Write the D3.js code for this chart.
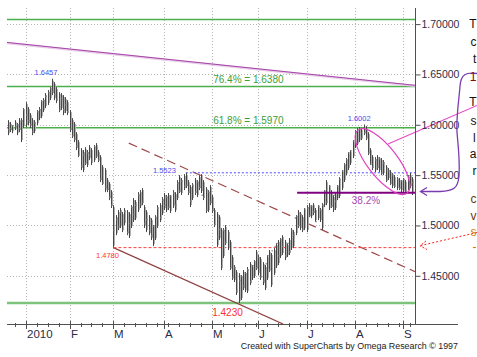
<!DOCTYPE html>
<html><head><meta charset="utf-8">
<script src="https://cdn.jsdelivr.net/npm/d3@7"></script>
<style>html,body{margin:0;padding:0;background:#fff;overflow:hidden}svg{display:block;font-family:Arial,"Liberation Sans",sans-serif}</style>
</head><body><svg id="c" width="477" height="357"></svg>
<script>
// GBP/USD daily bars, 23 Dec 2009 .. 7 Sep 2010 (weekdays)
const startDate = "2009-12-23";
const highs = [1.6046,1.6027,1.5997,1.6046,1.6017,1.6066,1.6066,1.6166,1.6225,1.6176,1.6116,1.6066,1.6046,1.6146,1.6176,1.6245,1.6265,1.6315,1.6345,1.6374,1.6457,1.6424,1.6374,1.6324,1.6315,1.6295,1.6275,1.6245,1.6146,1.6066,1.6027,1.5927,1.5848,1.5768,1.5749,1.5778,1.5749,1.5798,1.5768,1.5798,1.5818,1.5749,1.5699,1.5600,1.5570,1.5471,1.5431,1.5351,1.5202,1.5103,1.5153,1.5173,1.5133,1.5173,1.5153,1.5133,1.5202,1.5272,1.5252,1.5331,1.5351,1.5371,1.5202,1.5153,1.5103,1.5073,1.5004,1.5103,1.5202,1.5222,1.5282,1.5322,1.5302,1.5322,1.5302,1.5351,1.5331,1.5451,1.5500,1.5471,1.5510,1.5523,1.5451,1.5401,1.5421,1.5471,1.5451,1.5500,1.5510,1.5451,1.5381,1.5351,1.5401,1.5302,1.5173,1.5133,1.5103,1.4974,1.4974,1.5004,1.4954,1.4855,1.4706,1.4607,1.4557,1.4527,1.4507,1.4557,1.4537,1.4587,1.4636,1.4607,1.4656,1.4756,1.4706,1.4686,1.4636,1.4607,1.4706,1.4756,1.4726,1.4775,1.4825,1.4855,1.4875,1.4904,1.4855,1.4825,1.4875,1.4974,1.4954,1.5103,1.5153,1.5133,1.5103,1.5173,1.5202,1.5222,1.5202,1.5222,1.5173,1.5202,1.5173,1.5222,1.5351,1.5451,1.5401,1.5351,1.5302,1.5331,1.5401,1.5480,1.5550,1.5619,1.5669,1.5729,1.5749,1.5848,1.5947,1.5967,1.5977,1.5967,1.6002,1.5987,1.5927,1.5768,1.5699,1.5679,1.5699,1.5679,1.5669,1.5649,1.5600,1.5570,1.5550,1.5520,1.5500,1.5480,1.5471,1.5451,1.5471,1.5451,1.5500,1.5520,1.5480];
const lows = [1.5897,1.5927,1.5917,1.5947,1.5897,1.5927,1.5828,1.5967,1.5977,1.5997,1.5967,1.5897,1.5917,1.5997,1.6046,1.6066,1.6126,1.6166,1.6196,1.6245,1.6295,1.6245,1.6215,1.6126,1.6146,1.6096,1.6116,1.6096,1.5927,1.5868,1.5828,1.5749,1.5679,1.5550,1.5530,1.5600,1.5580,1.5649,1.5600,1.5629,1.5669,1.5629,1.5431,1.5401,1.5331,1.5331,1.5252,1.5173,1.4780,1.4904,1.4954,1.4974,1.4934,1.5004,1.4904,1.4875,1.4974,1.5034,1.5053,1.5133,1.5173,1.5202,1.4974,1.4934,1.4904,1.4855,1.4795,1.4855,1.4974,1.5034,1.5103,1.5153,1.5133,1.5153,1.5123,1.5173,1.5133,1.5252,1.5322,1.5302,1.5351,1.5371,1.5302,1.5183,1.5252,1.5302,1.5282,1.5351,1.5322,1.5252,1.5123,1.5133,1.5202,1.5123,1.4984,1.4785,1.4855,1.4557,1.4676,1.4805,1.4756,1.4557,1.4458,1.4438,1.4309,1.4230,1.4259,1.4358,1.4338,1.4329,1.4408,1.4458,1.4478,1.4557,1.4507,1.4458,1.4408,1.4358,1.4458,1.4537,1.4388,1.4507,1.4577,1.4607,1.4676,1.4706,1.4656,1.4686,1.4706,1.4756,1.4775,1.4904,1.4974,1.4954,1.4934,1.4954,1.4934,1.5083,1.5073,1.5103,1.5034,1.5053,1.5034,1.4954,1.5183,1.5202,1.5153,1.5173,1.5133,1.5153,1.5252,1.5272,1.5351,1.5431,1.5500,1.5550,1.5600,1.5669,1.5768,1.5798,1.5828,1.5848,1.5897,1.5848,1.5699,1.5600,1.5550,1.5530,1.5550,1.5530,1.5500,1.5500,1.5431,1.5451,1.5401,1.5371,1.5371,1.5351,1.5351,1.5331,1.5322,1.5322,1.5351,1.5371,1.5302];
const closes = [1.5950,1.5960,1.5990,1.5980,1.6000,1.5960,1.6040,1.6150,1.6100,1.6040,1.6000,1.5930,1.6020,1.6130,1.6150,1.6230,1.6240,1.6280,1.6320,1.6360,1.6330,1.6300,1.6250,1.6150,1.6260,1.6150,1.6200,1.6130,1.5960,1.5890,1.5860,1.5790,1.5700,1.5590,1.5700,1.5620,1.5720,1.5700,1.5650,1.5780,1.5690,1.5650,1.5460,1.5420,1.5380,1.5360,1.5280,1.5200,1.4950,1.5060,1.4990,1.5130,1.4960,1.5140,1.4930,1.5020,1.5180,1.5110,1.5200,1.5300,1.5210,1.5230,1.5020,1.5060,1.4950,1.4900,1.4990,1.5080,1.5170,1.5080,1.5250,1.5200,1.5280,1.5180,1.5290,1.5320,1.5200,1.5420,1.5340,1.5440,1.5390,1.5400,1.5330,1.5240,1.5400,1.5330,1.5430,1.5380,1.5300,1.5280,1.5150,1.5330,1.5230,1.5150,1.5010,1.4890,1.4960,1.4600,1.4950,1.4830,1.4920,1.4580,1.4480,1.4580,1.4350,1.4450,1.4490,1.4400,1.4520,1.4560,1.4440,1.4600,1.4640,1.4580,1.4680,1.4490,1.4450,1.4620,1.4700,1.4560,1.4750,1.4790,1.4820,1.4700,1.4860,1.4790,1.4700,1.4820,1.4740,1.4950,1.4900,1.5090,1.5000,1.5110,1.4960,1.5160,1.5170,1.5100,1.5190,1.5130,1.5040,1.5190,1.5150,1.5200,1.5340,1.5230,1.5390,1.5190,1.5300,1.5240,1.5390,1.5460,1.5540,1.5600,1.5650,1.5720,1.5740,1.5840,1.5930,1.5820,1.5950,1.5870,1.5920,1.5870,1.5720,1.5610,1.5580,1.5650,1.5580,1.5660,1.5520,1.5620,1.5450,1.5540,1.5420,1.5500,1.5390,1.5460,1.5370,1.5440,1.5460,1.5340,1.5480,1.5400,1.5430];

const priceTicks = [1.45, 1.50, 1.55, 1.60, 1.65, 1.70];
const priceTickLabels = ["1.45000", "1.50000", "1.55000", "1.60000", "1.65000", "1.70000"];
const monthStarts = ["2010-01-04","2010-02-01","2010-03-01","2010-04-01","2010-05-03","2010-06-01","2010-07-01","2010-08-02","2010-09-01"];
const monthLabels = ["2010","F","M","A","M","J","J","A","S"];

// Fibonacci / level lines
const fibLevels = [1.7046, 1.6380, 1.5970, 1.4230];
const fibLabels = [null, "76.4% = 1.6380", "61.8% = 1.5970", null];
const level382 = 1.5325;
const pointLabels = [
  {text: "1.6457", idx: 20, price: 1.6457},
  {text: "1.6002", idx: 162, price: 1.6002},
  {text: "1.5523", idx: 81, price: 1.5523},
  {text: "1.4780", idx: 48, price: 1.4780},
  {text: "1.4230", idx: 105, price: 1.4230}
];
// trend lines [index, price]
const purpleTrend = [[-0.5, 1.6818], [185.4, 1.6392]];
const upperChannel = [[55, 1.5818], [185.4, 1.4541]];
const lowerChannel = [[48, 1.4780], [125.3, 1.4021]];
// visible (cut-off) characters of the side note
const noteChars = ["T","c","t","1","T","s","l","a","r","c","v","s","-"];
const noteColors = ["#111","#111","#111","#701010","#111","#111","#111","#111","#111","#6a3a10","#6a3a10","#d08000","#e07000"];

// ---------- build ----------
const parse = d3.timeParse("%Y-%m-%d"), fmt = d3.timeFormat("%Y-%m-%d");
const dates = [];
{ let d = parse(startDate);
  while (dates.length < highs.length) { const w = d.getDay(); if (w !== 0 && w !== 6) dates.push(fmt(d)); d = d3.timeDay.offset(d, 1); } }

const svg = d3.select("#c");
const L = 7, R = 415, T = 8, B = 324;
const x = d3.scaleBand().domain(dates).range([L, 413]).padding(0);
const cx = d => x(d) + x.bandwidth() / 2;
const xi = d3.scaleLinear().domain([0, dates.length - 1]).range([cx(dates[0]), cx(dates[dates.length - 1])]);
const y = d3.scaleLinear().domain([1.45, 1.70]).range([275.8, 24.1]);

const defs = svg.append("defs");
defs.append("clipPath").attr("id", "plot").append("rect").attr("x", L).attr("y", T).attr("width", R - L).attr("height", B - T);

// grid
const grid = svg.append("g");
priceTicks.forEach(p => grid.append("line").attr("x1", L).attr("x2", R).attr("y1", Math.round(y(p)) + 0.5).attr("y2", Math.round(y(p)) + 0.5)
  .attr("stroke", "#b4b4b4").attr("stroke-dasharray", "1,2"));
monthStarts.forEach(m => grid.append("line").attr("x1", Math.round(cx(m)) + 0.5).attr("x2", Math.round(cx(m)) + 0.5).attr("y1", T).attr("y2", B)
  .attr("stroke", "#b4b4b4").attr("stroke-dasharray", "1,2"));

const plot = svg.append("g").attr("clip-path", "url(#plot)");

// fib lines
fibLevels.forEach((p, k) => plot.append("line").attr("x1", L).attr("x2", R).attr("y1", y(p)).attr("y2", y(p))
  .attr("stroke", k === 3 ? "#7cc47c" : "#4caf4c").attr("stroke-width", k === 3 ? 2.5 : 1.5));
fibLevels.forEach((p, k) => { if (fibLabels[k]) svg.append("text").attr("x", cx(monthStarts[4]) + 1).attr("y", y(p) - 3.5)
  .attr("font-size", 10).attr("fill", "#3aa03a").text(fibLabels[k]); });

// purple long trend
const ln = d3.line().x(d => xi(d[0])).y(d => y(d[1]));
plot.append("path").attr("d", ln(purpleTrend)).attr("stroke", "#e8cce8").attr("stroke-width", 2.4).attr("fill", "none").attr("transform", "translate(0,0.6)");
plot.append("path").attr("d", ln(purpleTrend)).attr("stroke", "#a444a8").attr("stroke-width", 1).attr("fill", "none");

// channel
plot.append("path").attr("d", ln(upperChannel)).attr("stroke", "#a04848").attr("stroke-width", 1.2).attr("stroke-dasharray", "9,5").attr("fill", "none");
plot.append("path").attr("d", ln(lowerChannel)).attr("stroke", "#904040").attr("stroke-width", 1.2).attr("fill", "none");

// red dashed 1.4780 level
plot.append("line").attr("x1", xi(48)).attr("x2", R).attr("y1", y(1.4780)).attr("y2", y(1.4780))
  .attr("stroke", "#ff4040").attr("stroke-dasharray", "3,2");
// blue dotted 1.5523 level
plot.append("line").attr("x1", xi(81)).attr("x2", R).attr("y1", y(1.5523)).attr("y2", y(1.5523))
  .attr("stroke", "#4848ff").attr("stroke-dasharray", "2,2");

// bar fill shading
plot.append("g").selectAll("rect").data(dates).join("rect")
  .attr("x", d => Math.round(cx(d)) + 1).attr("width", 1)
  .attr("y", (d, i) => y(highs[i]) + 2).attr("height", (d, i) => Math.max(0, y(lows[i]) - y(highs[i]) - 4))
  .attr("fill", "#b0b0b0");
// bars
const bars = plot.append("g").attr("stroke", "#474747").attr("stroke-width", 1);
dates.forEach((d, i) => {
  const xc = Math.round(cx(d)) + 0.5;
  bars.append("line").attr("x1", xc).attr("x2", xc).attr("y1", y(highs[i])).attr("y2", y(lows[i]));
  bars.append("line").attr("x1", xc).attr("x2", xc + 1.3).attr("y1", y(closes[i])).attr("y2", y(closes[i])).attr("stroke", "#909090").attr("stroke-width", 1.5);
});

// 38.2% level
plot.append("line").attr("x1", xi(131.7)).attr("x2", R).attr("y1", y(level382)).attr("y2", y(level382))
  .attr("stroke", "#800080").attr("stroke-width", 2);
svg.append("text").attr("x", 366).attr("y", y(level382) + 11.5).attr("text-anchor", "middle")
  .attr("font-size", 10).attr("fill", "#a848b0").text("38.2%");

// point labels
const pl = pointLabels;
svg.append("text").attr("x", xi(pl[0].idx) - 6).attr("y", y(pl[0].price) - 3.5).attr("text-anchor", "middle").attr("font-size", 7.5).attr("fill", "#4a4af0").text(pl[0].text);
svg.append("text").attr("x", xi(pl[1].idx) - 4.5).attr("y", y(pl[1].price) - 3.5).attr("text-anchor", "middle").attr("font-size", 7.5).attr("fill", "#4a4af0").text(pl[1].text);
svg.append("text").attr("x", xi(pl[2].idx) - 10).attr("y", y(pl[2].price) + 0.5).attr("text-anchor", "end").attr("font-size", 7.5).attr("fill", "#4a4af0").text(pl[2].text);
svg.append("text").attr("x", xi(pl[3].idx) + 5.5).attr("y", y(pl[3].price) + 10).attr("text-anchor", "end").attr("font-size", 7.5).attr("fill", "#ff3030").text(pl[3].text);
svg.append("text").attr("x", xi(pl[4].idx) - 11).attr("y", y(pl[4].price) + 13).attr("text-anchor", "middle").attr("font-size", 10).attr("fill", "#ff3030").text(pl[4].text);

// ellipse highlight
const eIdx = 170.6, eP = 1.5634;
svg.append("ellipse").attr("cx", 0).attr("cy", 0).attr("rx", 40).attr("ry", 15)
  .attr("transform", `translate(${xi(eIdx)},${y(eP)}) rotate(52)`)
  .attr("fill", "none").attr("stroke", "#e040c0").attr("stroke-width", 1.2);
svg.append("line").attr("x1", 388).attr("y1", 144).attr("x2", 477).attr("y2", 105.5).attr("stroke", "#e848c8").attr("stroke-width", 1.1);

// axes
const axc = "#2c2c48";
svg.append("line").attr("x1", R + 0.5).attr("x2", R + 0.5).attr("y1", T).attr("y2", B).attr("stroke", "#505050");
svg.append("line").attr("x1", L).attr("x2", 458).attr("y1", B + 0.5).attr("y2", B + 0.5).attr("stroke", "#505050");
const yAxis = d3.axisRight(y).tickValues(priceTicks).tickSize(5).tickFormat((d, i) => priceTickLabels[i]);
const ya = svg.append("g").attr("transform", `translate(${R + 0.5},0)`).call(yAxis);
ya.select(".domain").remove();
ya.selectAll("line").attr("stroke", "#505050");
ya.selectAll("text").attr("font-size", 10.5).attr("fill", axc).attr("x", 6).attr("font-family", 'Arial,"Liberation Sans",sans-serif');

// x ticks: Mondays (minor) + month starts (major)
const mondays = dates.filter(d => parse(d).getDay() === 1 && !monthStarts.includes(d));
const xt = svg.append("g").attr("stroke", "#505050");
mondays.forEach(d => xt.append("line").attr("x1", Math.round(cx(d)) + 0.5).attr("x2", Math.round(cx(d)) + 0.5).attr("y1", B - 1).attr("y2", B + 3));
monthStarts.forEach(d => xt.append("line").attr("x1", Math.round(cx(d)) + 0.5).attr("x2", Math.round(cx(d)) + 0.5).attr("y1", B - 3).attr("y2", B + 5));
monthStarts.forEach((d, k) => svg.append("text").attr("x", Math.round(cx(d)) + 1).attr("y", 338)
  .attr("font-size", 11.5).attr("fill", axc).text(monthLabels[k]));

// footer
svg.append("text").attr("x", 458).attr("y", 348.5).attr("text-anchor", "end").attr("font-size", 8.9).attr("fill", "#222").text("Created with SuperCharts by Omega Research \u00A9 1997");

// bracket arrow (purple)
svg.append("path").attr("d", "M477,73.5 C466,72 461,74 460,86 C459,100 456,118 457,132 C458,146 460,158 459,176 C458,188 454,191 440,191.5 L421,191.5")
  .attr("fill", "none").attr("stroke", "#7a3cb0").attr("stroke-width", 1.3);
svg.append("path").attr("d", "M427,187.5 L420.5,191.5 L427,195.5").attr("fill", "none").attr("stroke", "#7a3cb0").attr("stroke-width", 1.3);
// red dotted arrow
svg.append("path").attr("d", "M477,232.5 L421,245.5").attr("stroke", "#ff2020").attr("stroke-dasharray", "2,2").attr("fill", "none");
svg.append("path").attr("d", "M426,241 L420,245.8 L427,249.5").attr("fill", "none").attr("stroke", "#ff2020").attr("stroke-dasharray", "2,1.5");

// side note glyphs at right edge
const noteY = [28, 46, 63, 81, 106, 125, 142, 158, 175, 203, 220, 236, 251];
noteChars.forEach((ch, k) => {
  const t = svg.append("text").attr("y", noteY[k]).attr("font-size", 12).attr("fill", noteColors[k]).text(ch);
  const w = t.node().getComputedTextLength();
  t.attr("x", Math.min(473, 476.5 - w));
});
</script></body></html>
